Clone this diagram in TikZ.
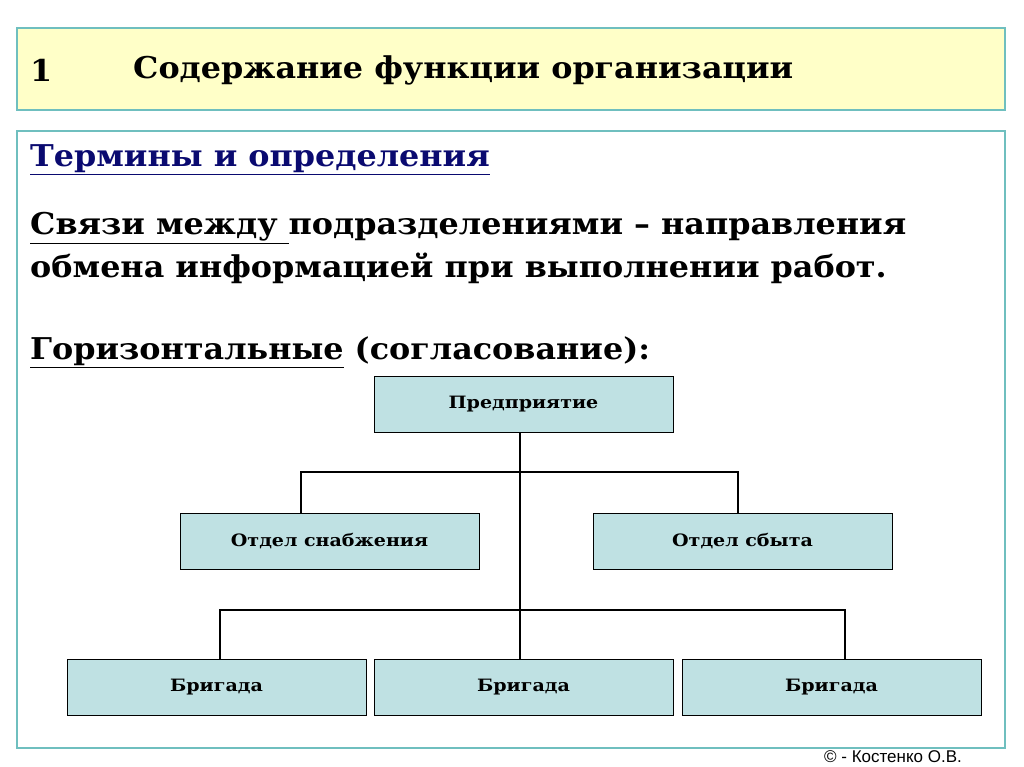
\documentclass[tikz,border=0pt]{standalone}
\usepackage{fontspec}
\setmainfont{DejaVu Serif}[FakeStretch=1.06]
\newfontfamily\boxfont{DejaVu Serif}[FakeStretch=1.12]
\newfontfamily\footfont{Liberation Sans}
\definecolor{paleyellow}{HTML}{FFFFC8}
\definecolor{frameteal}{HTML}{6FBFBF}
\definecolor{boxblue}{HTML}{BFE1E3}
\definecolor{titlenavy}{HTML}{0A0A70}
\begin{document}
\begin{tikzpicture}
[x=1pt,y=-1pt,
unit/.style={rectangle,draw=black,fill=boxblue,minimum width=299pt,minimum height=56pt,inner sep=0pt,font=\boxfont\bfseries\fontsize{17}{20}\selectfont},
link/.style={thick,black,line width=1.8pt},
heading/.style={anchor=west,inner sep=0pt,font=\bfseries\fontsize{30}{36}\selectfont}]
\useasboundingbox (0,0) rectangle (1024,767);
% header and frame
\draw[frameteal,fill=paleyellow,line width=1.2pt] (17,28) rectangle (1005,110);
\draw[frameteal,line width=1.2pt] (17,131) rectangle (1005,748);
\node[heading] (num) at (30,70) {1};
\node[heading] (title) at (133,70) {Содержание функции организации};

\node[heading,text=titlenavy] (terms) at (30,160) {\underline{Термины и определения}};
\node[heading] (line1) at (30,228) {\underline{Связи между }подразделениями – направления};
\node[heading] (line2) at (30,268) {обмена информацией при выполнении работ.};
\node[heading] (horiz) at (30,352) {\underline{Горизонтальные} (согласование):};

% tree
\node[unit] (firm) at (523.5,404.5) {Предприятие};
\node[unit] (supply) at (329.5,541) {Отдел снабжения};
\node[unit] (sales) at (742.5,541) {Отдел сбыта};
\node[unit] (crew1) at (216.5,687) {Бригада};
\node[unit] (crew2) at (523.5,687) {Бригада};
\node[unit] (crew3) at (831.5,687) {Бригада};

\coordinate (j1) at (520,472);
\coordinate (j2) at (520,610);
\draw[link] (firm.south -| j1) -- (crew2.north -| j1);
\draw[link] (supply.north -| 301,0) -- (301,472) -- (738,472) -- (sales.north -| 738,0);
\draw[link] (crew1.north -| 220,0) -- (220,610) -- (845,610) -- (crew3.north -| 845,0);

\node[font=\footfont\fontsize{17}{20}\selectfont,inner sep=0pt] (author) at (893,757) {© - Костенко О.В.};
\end{tikzpicture}
\end{document}
